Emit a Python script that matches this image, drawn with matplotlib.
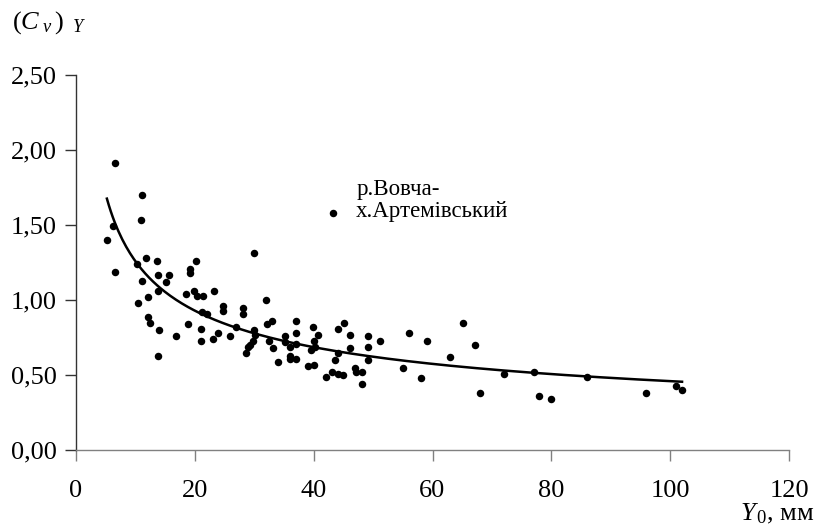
import numpy as np
import matplotlib
matplotlib.use("Agg")
import matplotlib.pyplot as plt

plt.rcParams['font.family'] = ['Liberation Serif', 'DejaVu Serif']
plt.rcParams['mathtext.fontset'] = 'custom'
plt.rcParams['mathtext.rm'] = 'Liberation Serif'
plt.rcParams['mathtext.it'] = 'Liberation Serif:italic'

# Observed data: Y0 (mm) and Cv
y0 = [6.6, 11.1, 10.9, 6.3, 5.2, 6.5, 11.8, 10.2, 13.7, 20.2, 19.2, 19.2,
      11.1, 13.8, 15.7, 15.2, 13.8, 10.5, 12.2, 18.5, 19.9, 20.3, 21.4,
      21.2, 22.0, 12.1, 12.4, 13.9, 18.8, 16.9, 21.1, 21.1, 13.8,
      23.2, 23.1, 23.9, 24.8, 24.8, 25.9, 27.0, 28.1, 28.1, 30.0, 31.9,
      30.0, 30.1, 29.8, 29.3, 29.0, 28.6, 32.1, 33.0, 32.4, 33.1, 34.0,
      35.2, 35.2, 36.0, 36.0, 36.0, 37.0, 37.0, 37.0, 37.0, 39.0, 40.1,
      39.9, 40.0, 39.6, 40.3, 40.8, 42.1, 43.1, 44.1, 45.0, 43.6, 44.1,
      45.1, 44.1, 46.1, 46.1, 47.0, 47.1, 48.1, 48.1, 49.1, 49.1, 49.1,
      51.1, 56.1, 55.1, 59.1, 58.0, 65.1, 63.0, 67.1, 68.0, 72.0, 77.0,
      78.0, 80.0, 86.0, 96.0, 101.0, 102.0]
cv = [1.91, 1.70, 1.53, 1.49, 1.40, 1.19, 1.28, 1.24, 1.26, 1.26, 1.21, 1.18,
      1.13, 1.17, 1.17, 1.12, 1.06, 0.98, 1.02, 1.04, 1.06, 1.03, 1.03,
      0.92, 0.91, 0.89, 0.85, 0.80, 0.84, 0.76, 0.81, 0.73, 0.63,
      1.06, 0.74, 0.78, 0.96, 0.93, 0.76, 0.82, 0.95, 0.91, 1.31, 1.00,
      0.80, 0.77, 0.73, 0.70, 0.69, 0.65, 0.84, 0.86, 0.73, 0.68, 0.59,
      0.76, 0.72, 0.69, 0.63, 0.61, 0.86, 0.78, 0.71, 0.61, 0.56, 0.57,
      0.82, 0.73, 0.67, 0.69, 0.77, 0.49, 0.52, 0.51, 0.50, 0.60, 0.81,
      0.85, 0.65, 0.77, 0.68, 0.55, 0.52, 0.52, 0.44, 0.76, 0.69, 0.60,
      0.73, 0.78, 0.55, 0.73, 0.48, 0.85, 0.62, 0.70, 0.38, 0.51, 0.52,
      0.36, 0.34, 0.49, 0.38, 0.43, 0.40]

# Power trendline coefficients (y = a * x^b), as shown
trend_a = 3.45
trend_b = -0.438

x_ticks = [0, 20, 40, 60, 80, 100, 120]
y_ticks = [0.0, 0.5, 1.0, 1.5, 2.0, 2.5]
y_tick_labels = ['0,00', '0,50', '1,00', '1,50', '2,00', '2,50']
legend_label = 'р.Вовча-\nх.Артемівський'

fig = plt.figure(figsize=(8.16, 5.26), dpi=100)
ax = fig.add_axes([76/816, 76/526, 713/816, 375/526])

ax.plot(y0, cv, 'o', color='black', markersize=5.4, markeredgewidth=0, zorder=3)

xs = np.linspace(min(y0), max(y0), 300)
ax.plot(xs, trend_a * xs ** trend_b, color='black', lw=1.8, zorder=2)

ax.set_xlim(0, 120)
ax.set_ylim(0, 2.5)
ax.set_xticks(x_ticks)
ax.set_xticklabels([str(t) for t in x_ticks])
ax.set_yticks(y_ticks)
ax.set_yticklabels(y_tick_labels)
for s in ['top', 'right']:
    ax.spines[s].set_visible(False)
ax.spines['left'].set_color('#333333')
ax.spines['bottom'].set_color('#808080')
ax.spines['left'].set_linewidth(1.0)
ax.spines['bottom'].set_linewidth(1.0)
ax.tick_params(axis='both', labelcolor='black', labelsize=19,
               length=8, width=1.0, direction='out')
ax.tick_params(axis='x', colors='#808080', labelcolor='black', pad=13.5)
ax.tick_params(axis='y', colors='#333333', labelcolor='black', pad=6)

# legend-like annotation
ax.plot([43.28], [1.58], 'o', color='black', markersize=5.4, markeredgewidth=0)
line1, line2 = legend_label.split('\n')
ax.text(47.15, 1.70, line1, fontsize=16.5, ha='left', va='baseline')
ax.text(47.15, 1.551, line2, fontsize=16.5, ha='left', va='baseline')

fig.text(12/816, 1 - 23/526, r'$(C_{\ v}\,)_{\ \ Y}$', fontsize=19, ha='left', va='center')
fig.text(740/816, 1 - 520/526, r'$Y_{\,0}$, мм', fontsize=19, ha='left', va='baseline')

fig.savefig('out.png', dpi=100)
